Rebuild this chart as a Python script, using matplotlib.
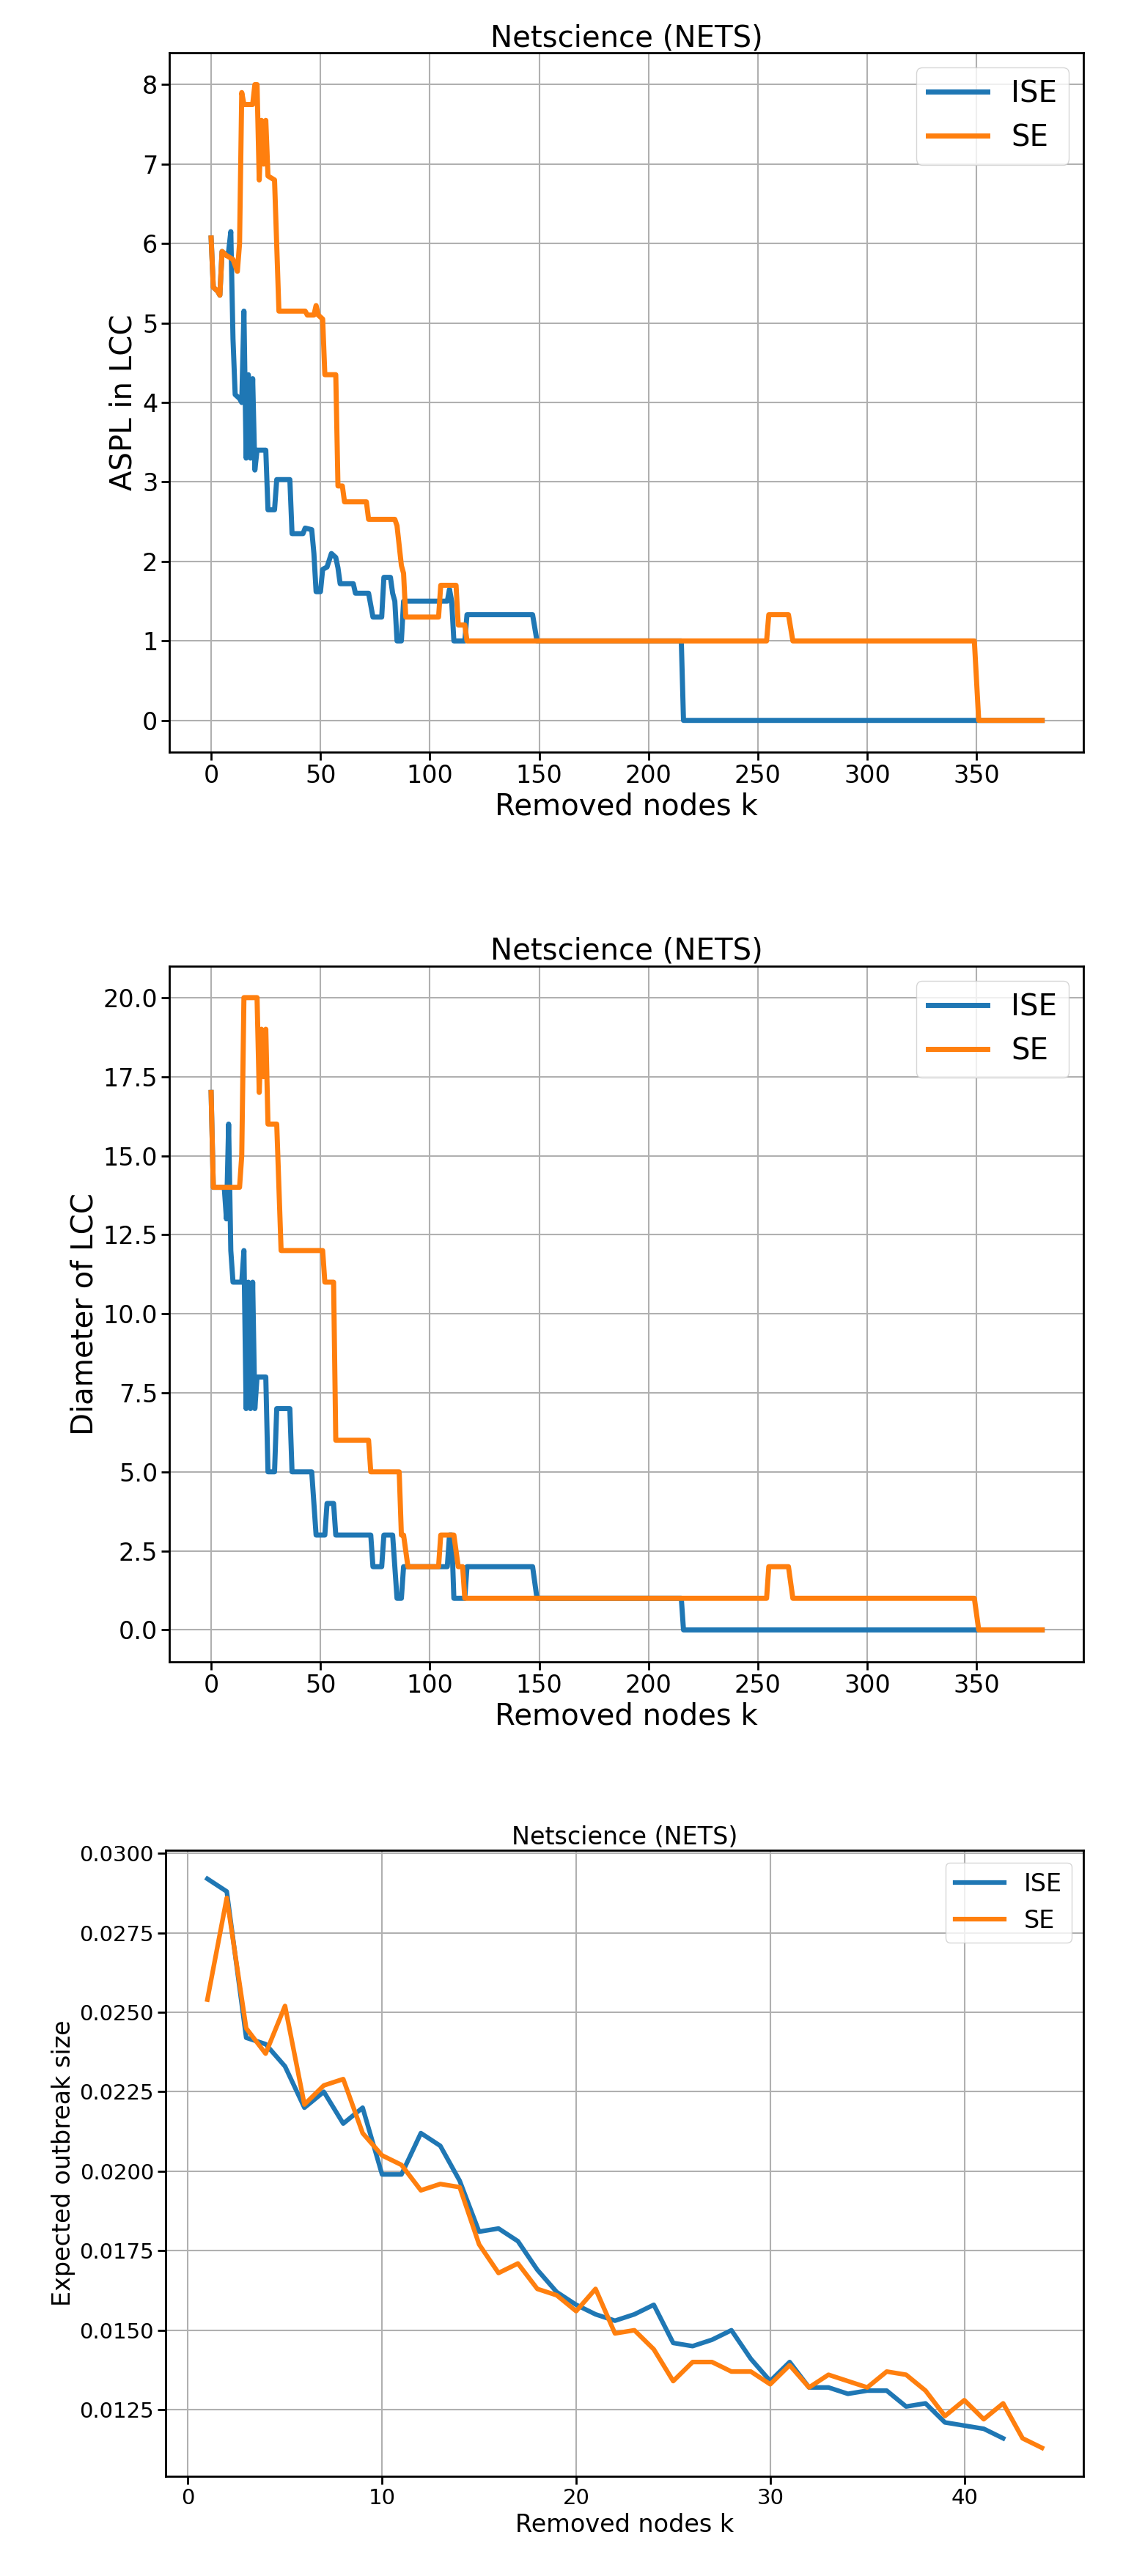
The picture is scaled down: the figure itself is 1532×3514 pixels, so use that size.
import matplotlib
matplotlib.use("Agg")
import matplotlib.pyplot as plt

# ASPL in LCC (knots: removed nodes k, value)
ise_aspl_k = [0,1,3,4,5,7,8,9,10,11,13,14,15,16,17,18,19,20,21,25,26,29,30,36,37,42,43,46,47,48,50,51,53,55,57,58,59,65,66,72,74,78,79,82,83,84,85,87,88,108,109,110,111,116,117,147,149,215,216,380]
ise_aspl_v = [6.07,5.45,5.4,5.35,5.9,5.85,5.9,6.15,4.8,4.1,4.05,4.0,5.15,3.3,4.35,3.3,4.3,3.15,3.4,3.4,2.65,2.65,3.03,3.03,2.35,2.35,2.42,2.4,2.1,1.62,1.62,1.9,1.93,2.1,2.05,1.92,1.72,1.72,1.6,1.6,1.3,1.3,1.8,1.8,1.6,1.5,1.0,1.0,1.5,1.5,1.65,1.5,1.0,1.0,1.33,1.33,1.0,1.0,0.0,0.0]
se_aspl_k = [0,1,3,4,5,7,10,12,13,14,15,19,20,21,22,23,24,25,26,29,31,43,44,47,48,49,51,52,57,58,60,61,71,72,84,85,87,88,89,104,105,112,113,116,117,254,255,264,266,349,351,380]
se_aspl_v = [6.07,5.45,5.4,5.35,5.9,5.85,5.8,5.65,6.0,7.9,7.75,7.75,8.0,8.0,6.8,7.55,7.0,7.55,6.85,6.8,5.15,5.15,5.1,5.1,5.22,5.1,5.05,4.35,4.35,2.95,2.95,2.75,2.75,2.53,2.53,2.45,1.95,1.85,1.3,1.3,1.7,1.7,1.2,1.2,1.0,1.0,1.33,1.33,1.0,1.0,0.0,0.0]

# Diameter of LCC
ise_diam_k = [0,1,6,7,8,9,10,14,15,16,17,18,19,20,21,25,26,29,30,36,37,46,48,52,53,56,57,73,74,78,79,83,85,87,88,108,109,110,111,116,117,147,149,215,216,380]
ise_diam_v = [17,14,14,13,16,12,11,11,12,7,11,7,11,7,8,8,5,5,7,7,5,5,3,3,4,4,3,3,2,2,3,3,1,1,2,2,3,3,1,1,2,2,1,1,0,0]
se_diam_k = [0,1,13,14,15,21,22,23,24,25,26,30,32,51,52,56,57,72,73,86,87,88,90,104,105,111,113,115,116,254,255,264,266,349,351,380]
se_diam_v = [17,14,14,15,20,20,17,19,17.5,19,16,16,12,12,11,11,6,6,5,5,3,3,2,2,3,3,2,2,1,1,2,2,1,1,0,0]

# Expected outbreak size
ise_out_k = list(range(1, 43))
ise_out_v = [0.0292,0.0288,0.0242,0.0240,0.0233,0.0220,0.0225,0.0215,0.0220,0.0199,0.0199,0.0212,0.0208,0.0197,0.0181,0.0182,0.0178,0.0169,0.0162,0.0158,0.0155,0.0153,0.0155,0.0158,0.0146,0.0145,0.0147,0.0150,0.0141,0.0134,0.0140,0.0132,0.0132,0.0130,0.0131,0.0131,0.0126,0.0127,0.0121,0.0120,0.0119,0.0116]
se_out_k = list(range(1, 45))
se_out_v = [0.0254,0.0286,0.0245,0.0237,0.0252,0.0221,0.0227,0.0229,0.0212,0.0205,0.0202,0.0194,0.0196,0.0195,0.0177,0.0168,0.0171,0.0163,0.0161,0.0156,0.0163,0.0149,0.0150,0.0144,0.0134,0.0140,0.0140,0.0137,0.0137,0.0133,0.0139,0.0132,0.0136,0.0134,0.0132,0.0137,0.0136,0.0131,0.0123,0.0128,0.0122,0.0127,0.0116,0.0113]

title = "Netscience (NETS)"
fig = plt.figure(figsize=(15.32, 35.14), dpi=100)

ax1 = fig.add_axes([0.151, 0.708, 0.814, 0.2715])
ax2 = fig.add_axes([0.151, 0.355, 0.814, 0.270])
ax3 = fig.add_axes([0.1475, 0.0387, 0.8175, 0.243])

for ax, ik, iv, sk, sv, yl in [(ax1, ise_aspl_k, ise_aspl_v, se_aspl_k, se_aspl_v, "ASPL in LCC"),
                               (ax2, ise_diam_k, ise_diam_v, se_diam_k, se_diam_v, "Diameter of LCC")]:
    ax.plot(ik, iv, color="#1f77b4", lw=5, label="ISE")
    ax.plot(sk, sv, color="#ff7f0e", lw=5, label="SE")
    ax.set_title(title, fontsize=29)
    ax.set_xlabel("Removed nodes k", fontsize=29)
    ax.set_ylabel(yl, fontsize=29)
    ax.tick_params(labelsize=24, width=2, length=8)
    ax.grid(True, lw=1.5)
    ax.legend(fontsize=29, loc="upper right")
    for s in ax.spines.values():
        s.set_linewidth(2)
ax2.yaxis.set_major_formatter(matplotlib.ticker.FormatStrFormatter("%.1f"))

ax3.plot(ise_out_k, ise_out_v, color="#1f77b4", lw=4.5, label="ISE")
ax3.plot(se_out_k, se_out_v, color="#ff7f0e", lw=4.5, label="SE")
ax3.set_title(title, fontsize=24)
ax3.set_xlabel("Removed nodes k", fontsize=24)
ax3.set_ylabel("Expected outbreak size", fontsize=24)
ax3.tick_params(labelsize=21, width=2, length=8)
ax3.yaxis.set_major_formatter(matplotlib.ticker.FormatStrFormatter("%.4f"))
ax3.grid(True, lw=1.5)
ax3.legend(fontsize=24, loc="upper right")
for s in ax3.spines.values():
    s.set_linewidth(2)

fig.savefig("out.png", dpi=100)
